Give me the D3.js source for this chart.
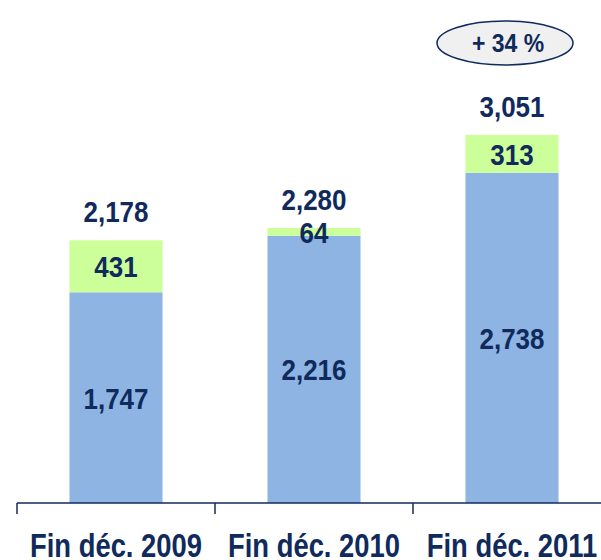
<!DOCTYPE html>
<html>
<head>
<meta charset="utf-8">
<script src="https://cdn.jsdelivr.net/npm/d3@7"></script>
<style>
  body { margin: 0; background: #fff; }
  svg text { font-family: "Liberation Sans", Arial, sans-serif; font-weight: bold; fill: #102a5c; }
</style>
</head>
<body>
<div id="chart"></div>
<script>
// Chart data
const categories = ["Fin déc. 2009", "Fin déc. 2010", "Fin déc. 2011"];
const baseValues = [1747, 2216, 2738];
const topValues = [431, 64, 313];
const totals = [2178, 2280, 3051];
const growthLabel = "+ 34 %";

const width = 601, height = 560;
const navy = "#102a5c";

const svg = d3.select("#chart").append("svg")
    .attr("width", width)
    .attr("height", height);

// Scales
const x = d3.scaleBand().domain(categories).range([17, 611]).paddingInner(0.53).paddingOuter(0.265);
const y = d3.scaleLinear().domain([0, d3.max(totals)]).range([503, 135]);

const fmt = d3.format(",");
// squeeze text horizontally to mimic a condensed face
const place = (px, py, sx) => `translate(${px},${py}) scale(${sx},1)`;

// Stack the two series
const rows = categories.map((c, i) => ({ cat: c, base: baseValues[i], top: topValues[i], total: totals[i] }));
const stacked = d3.stack().keys(["base", "top"])(rows);
const colors = { base: "#8eb4e3", top: "#ccff99" };

const layers = svg.selectAll("g.layer")
    .data(stacked)
    .enter().append("g")
    .attr("class", "layer")
    .attr("fill", d => colors[d.key]);

layers.selectAll("rect")
    .data(d => d)
    .enter().append("rect")
    .attr("x", d => x(d.data.cat))
    .attr("width", x.bandwidth())
    .attr("y", d => y(d[1]))
    .attr("height", d => y(d[0]) - y(d[1]));

// Segment labels
stacked.forEach(layer => {
    svg.selectAll(null)
        .data(layer)
        .enter().append("text")
        .attr("transform", d => place(x(d.data.cat) + x.bandwidth() / 2, (y(d[0]) + y(d[1])) / 2 + 11, 0.88))
        .attr("text-anchor", "middle")
        .style("font-size", "29.5px")
        .text(d => fmt(d.data[layer.key]));
});

// Totals above bars
svg.selectAll(".total")
    .data(rows)
    .enter().append("text")
    .attr("class", "total")
    .attr("transform", d => place(x(d.cat) + x.bandwidth() / 2, y(d.total) - 18, 0.88))
    .attr("text-anchor", "middle")
    .style("font-size", "29.5px")
    .text(d => fmt(d.total));

// X axis: line with ticks at band edges
const axisY = y(0);
svg.append("line")
    .attr("x1", 17).attr("x2", width)
    .attr("y1", axisY).attr("y2", axisY)
    .attr("stroke", navy).attr("stroke-width", 1.5);

const edges = categories.map(c => x(c) - x.step() * x.paddingInner() / 2);
svg.selectAll(".tick")
    .data(edges)
    .enter().append("line")
    .attr("x1", d => d).attr("x2", d => d)
    .attr("y1", axisY).attr("y2", axisY + 11)
    .attr("stroke", navy).attr("stroke-width", 1.5);

svg.selectAll(".cat")
    .data(categories)
    .enter().append("text")
    .attr("transform", d => place(x(d) + x.bandwidth() / 2, 556.5, 0.83))
    .attr("text-anchor", "middle")
    .style("font-size", "33px")
    .text(d => d);

// Growth bubble over last bar
const lastX = x(categories[2]) + x.bandwidth() / 2;
svg.append("ellipse")
    .attr("cx", lastX - 7).attr("cy", 43)
    .attr("rx", 68).attr("ry", 22)
    .attr("fill", "#f0f0f0")
    .attr("stroke", navy).attr("stroke-width", 1.5);
svg.append("text")
    .attr("transform", place(lastX - 4, 52, 0.92))
    .attr("text-anchor", "middle")
    .style("font-size", "25px")
    .text(growthLabel);
</script>
</body>
</html>
